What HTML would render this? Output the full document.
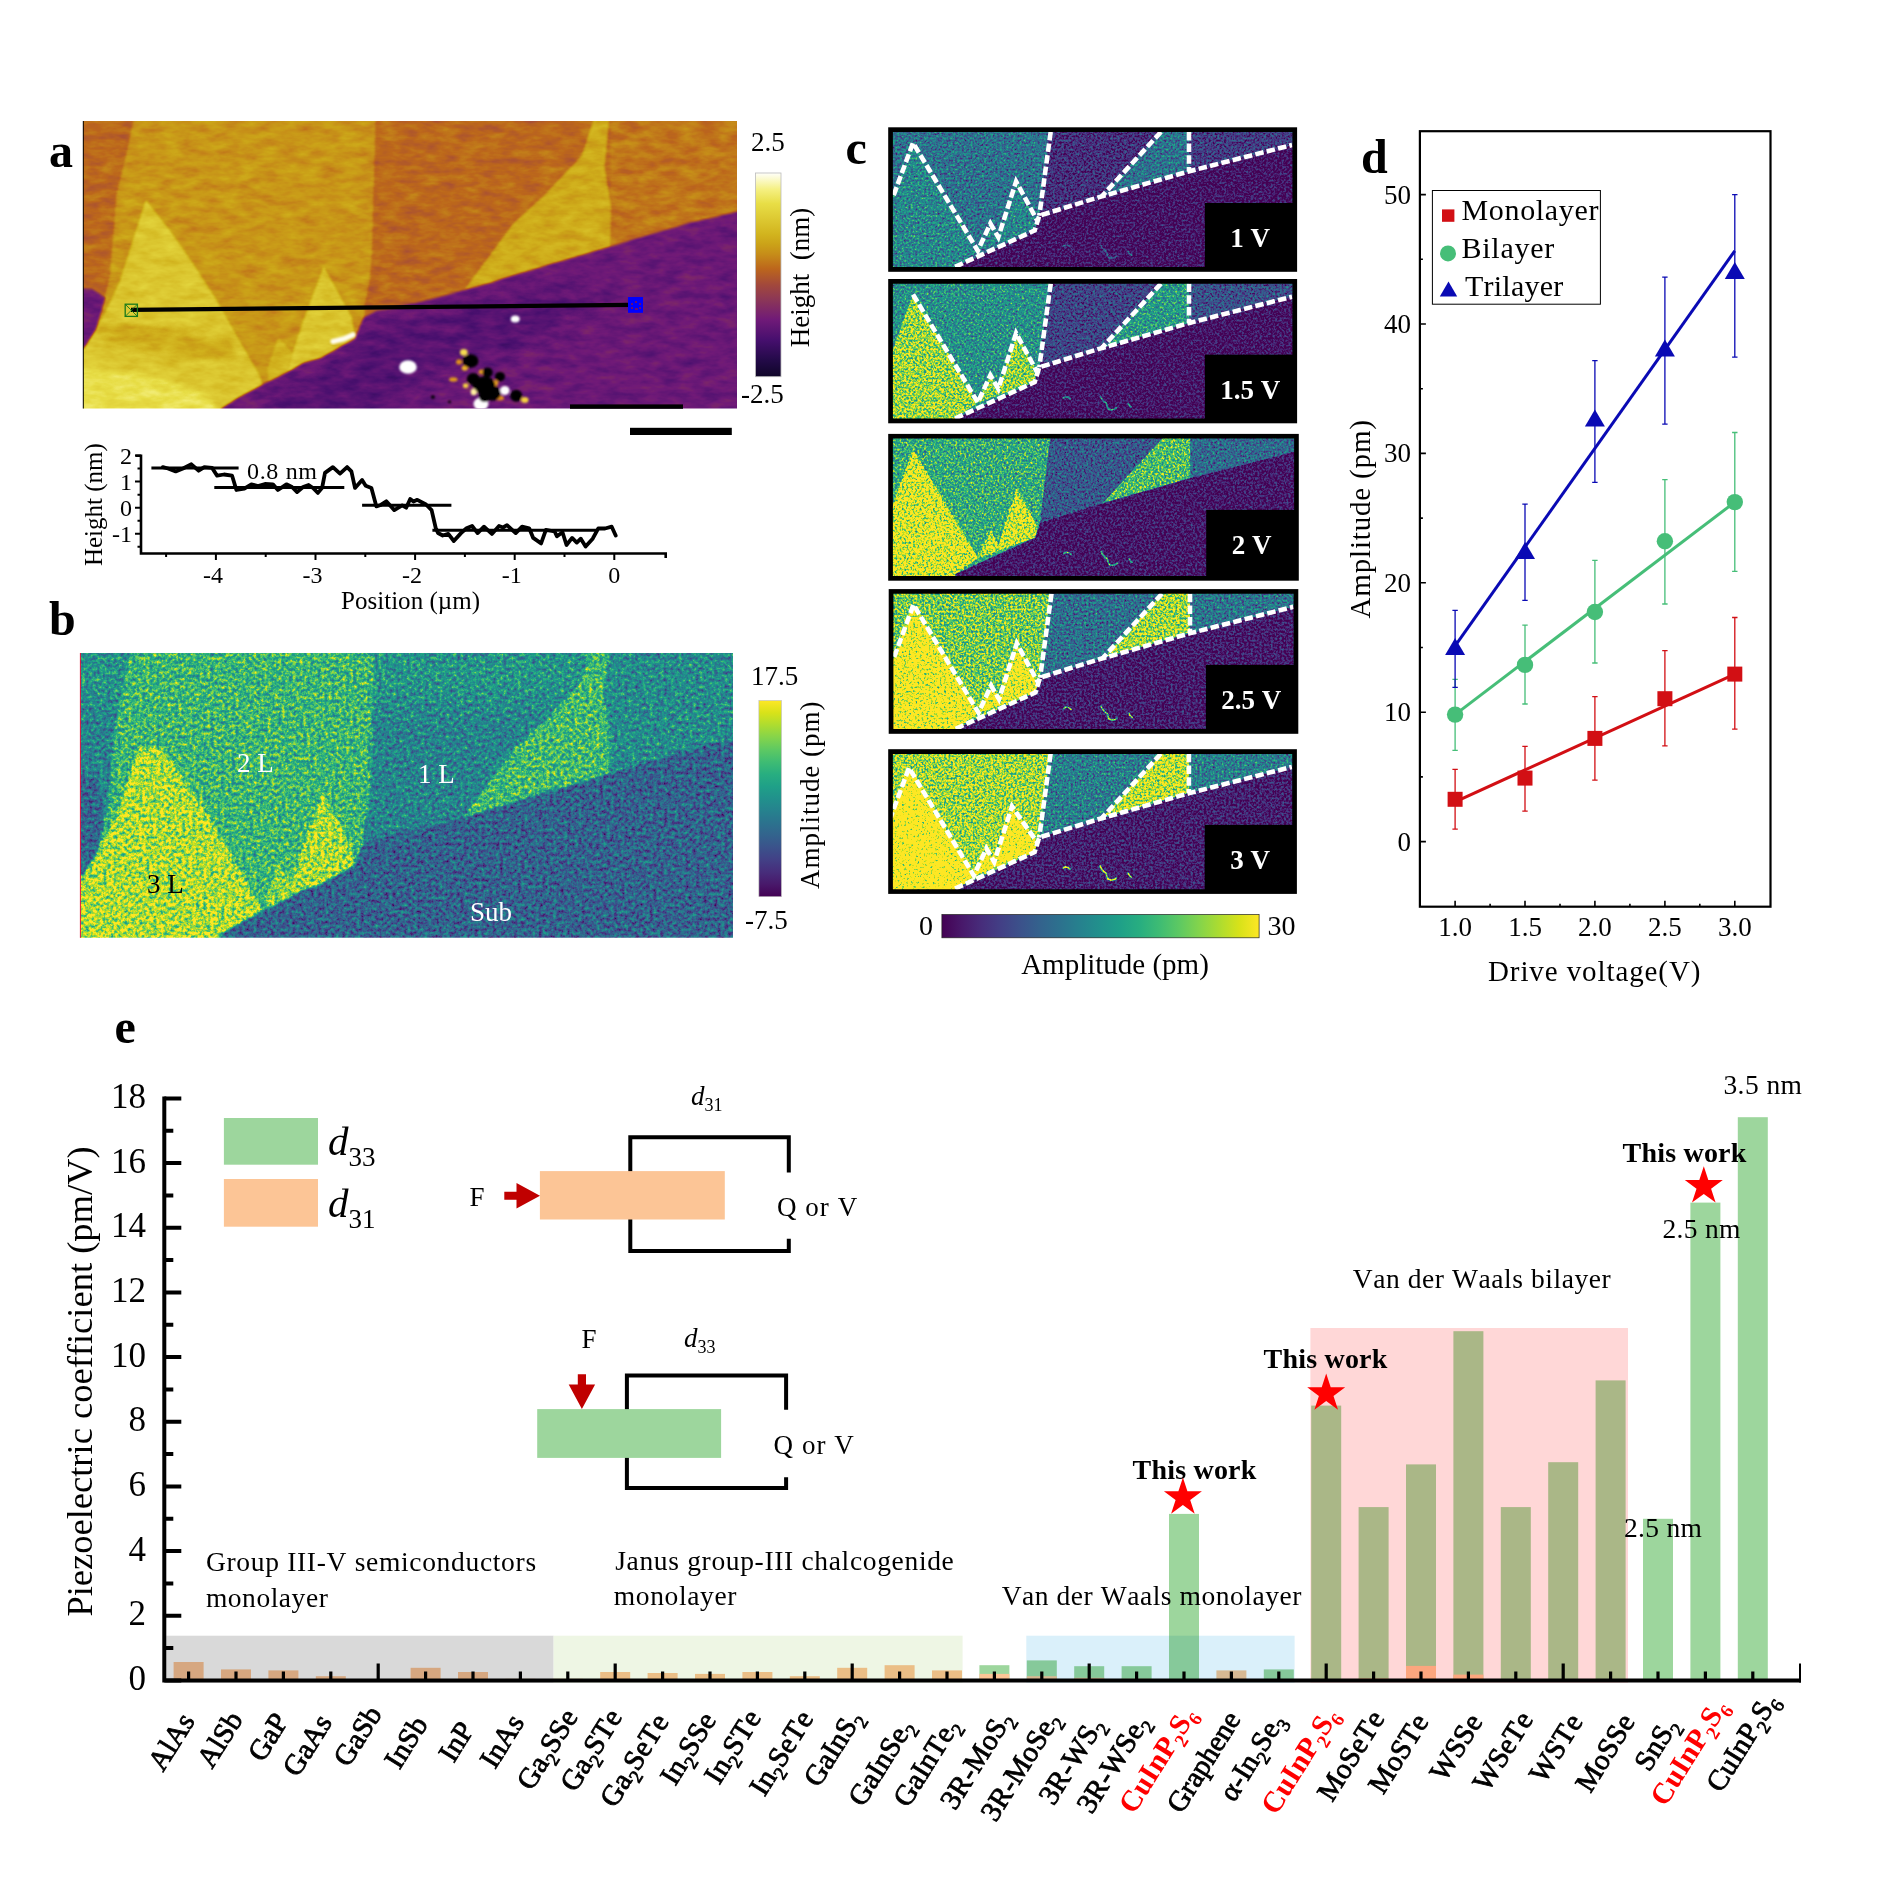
<!DOCTYPE html>
<html><head><meta charset="utf-8"><title>Figure</title>
<style>
html,body{margin:0;padding:0;background:#fff}
svg{display:block}
text{font-family:"Liberation Serif","DejaVu Serif",serif;fill:#000;font-kerning:none}
.b{font-weight:bold}
.i{font-style:italic}
</style></head><body>
<svg width="1890" height="1890" viewBox="0 0 1890 1890">
<defs>

<filter id="fa" x="0" y="0" width="100%" height="100%" color-interpolation-filters="sRGB"><feGaussianBlur in="SourceGraphic" stdDeviation="1.2" result="bl"/><feTurbulence type="fractalNoise" baseFrequency="0.05 0.12" numOctaves="3" seed="7" result="n"/><feColorMatrix in="n" type="matrix" values="1 0 0 0 0 1 0 0 0 0 1 0 0 0 0 0 0 0 0 1" result="ng"/><feComposite in="bl" in2="ng" operator="arithmetic" k1="0.000" k2="1.000" k3="0.160" k4="-0.080" result="s"/><feComponentTransfer in="s" result="c"><feFuncR type="table" tableValues="0.059 0.089 0.120 0.156 0.199 0.242 0.287 0.338 0.390 0.441 0.475 0.509 0.544 0.581 0.620 0.659 0.699 0.738 0.755 0.773 0.786 0.800 0.817 0.834 0.852 0.870 0.888 0.906 0.928 0.951 0.969 0.985 1.000"/><feFuncG type="table" tableValues="0.020 0.027 0.035 0.042 0.048 0.054 0.062 0.076 0.089 0.103 0.139 0.174 0.210 0.241 0.270 0.310 0.356 0.403 0.469 0.536 0.592 0.644 0.688 0.726 0.761 0.795 0.829 0.864 0.896 0.927 0.955 0.979 1.000"/><feFuncB type="table" tableValues="0.157 0.206 0.255 0.303 0.349 0.396 0.434 0.447 0.459 0.469 0.427 0.386 0.344 0.299 0.254 0.206 0.157 0.110 0.104 0.099 0.096 0.097 0.112 0.137 0.170 0.203 0.235 0.268 0.359 0.464 0.613 0.797 0.980"/><feFuncA type="linear" slope="0" intercept="1"/></feComponentTransfer></filter>
<filter id="fb" x="0" y="0" width="100%" height="100%" color-interpolation-filters="sRGB"><feGaussianBlur in="SourceGraphic" stdDeviation="1.0" result="bl"/><feTurbulence type="fractalNoise" baseFrequency="0.28" numOctaves="4" seed="11" result="n"/><feColorMatrix in="n" type="matrix" values="1 0 0 0 0 1 0 0 0 0 1 0 0 0 0 0 0 0 0 1" result="ng"/><feComposite in="bl" in2="ng" operator="arithmetic" k1="0.450" k2="0.775" k3="0.420" k4="-0.210" result="s"/><feComponentTransfer in="s" result="c"><feFuncR type="table" tableValues="0.267 0.267 0.267 0.282 0.279 0.259 0.230 0.199 0.173 0.149 0.128 0.121 0.158 0.246 0.369 0.516 0.678 0.846 0.993 0.993 0.993 0.993 0.993"/><feFuncG type="table" tableValues="0.005 0.005 0.005 0.095 0.175 0.252 0.322 0.388 0.449 0.508 0.567 0.626 0.684 0.739 0.789 0.831 0.864 0.887 0.906 0.906 0.906 0.906 0.906"/><feFuncB type="table" tableValues="0.329 0.329 0.329 0.417 0.483 0.525 0.546 0.555 0.558 0.557 0.551 0.533 0.502 0.452 0.383 0.294 0.190 0.100 0.144 0.144 0.144 0.144 0.144"/><feFuncA type="linear" slope="0" intercept="1"/></feComponentTransfer></filter>
<filter id="fc0" x="0" y="0" width="100%" height="100%" color-interpolation-filters="sRGB"><feGaussianBlur in="SourceGraphic" stdDeviation="0.7" result="bl"/><feTurbulence type="fractalNoise" baseFrequency="0.45" numOctaves="3" seed="20" result="n"/><feColorMatrix in="n" type="matrix" values="1 0 0 0 0 1 0 0 0 0 1 0 0 0 0 0 0 0 0 1" result="ng"/><feComposite in="bl" in2="ng" operator="arithmetic" k1="0.850" k2="0.575" k3="0.360" k4="-0.180" result="s"/><feComponentTransfer in="s" result="c"><feFuncR type="table" tableValues="0.267 0.267 0.267 0.282 0.279 0.259 0.230 0.199 0.173 0.149 0.128 0.121 0.158 0.246 0.369 0.516 0.678 0.846 0.993 0.993 0.993 0.993 0.993"/><feFuncG type="table" tableValues="0.005 0.005 0.005 0.095 0.175 0.252 0.322 0.388 0.449 0.508 0.567 0.626 0.684 0.739 0.789 0.831 0.864 0.887 0.906 0.906 0.906 0.906 0.906"/><feFuncB type="table" tableValues="0.329 0.329 0.329 0.417 0.483 0.525 0.546 0.555 0.558 0.557 0.551 0.533 0.502 0.452 0.383 0.294 0.190 0.100 0.144 0.144 0.144 0.144 0.144"/><feFuncA type="linear" slope="0" intercept="1"/></feComponentTransfer></filter>
<filter id="fc1" x="0" y="0" width="100%" height="100%" color-interpolation-filters="sRGB"><feGaussianBlur in="SourceGraphic" stdDeviation="0.7" result="bl"/><feTurbulence type="fractalNoise" baseFrequency="0.45" numOctaves="3" seed="21" result="n"/><feColorMatrix in="n" type="matrix" values="1 0 0 0 0 1 0 0 0 0 1 0 0 0 0 0 0 0 0 1" result="ng"/><feComposite in="bl" in2="ng" operator="arithmetic" k1="0.850" k2="0.575" k3="0.360" k4="-0.180" result="s"/><feComponentTransfer in="s" result="c"><feFuncR type="table" tableValues="0.267 0.267 0.267 0.282 0.279 0.259 0.230 0.199 0.173 0.149 0.128 0.121 0.158 0.246 0.369 0.516 0.678 0.846 0.993 0.993 0.993 0.993 0.993"/><feFuncG type="table" tableValues="0.005 0.005 0.005 0.095 0.175 0.252 0.322 0.388 0.449 0.508 0.567 0.626 0.684 0.739 0.789 0.831 0.864 0.887 0.906 0.906 0.906 0.906 0.906"/><feFuncB type="table" tableValues="0.329 0.329 0.329 0.417 0.483 0.525 0.546 0.555 0.558 0.557 0.551 0.533 0.502 0.452 0.383 0.294 0.190 0.100 0.144 0.144 0.144 0.144 0.144"/><feFuncA type="linear" slope="0" intercept="1"/></feComponentTransfer></filter>
<filter id="fc2" x="0" y="0" width="100%" height="100%" color-interpolation-filters="sRGB"><feGaussianBlur in="SourceGraphic" stdDeviation="0.7" result="bl"/><feTurbulence type="fractalNoise" baseFrequency="0.45" numOctaves="3" seed="22" result="n"/><feColorMatrix in="n" type="matrix" values="1 0 0 0 0 1 0 0 0 0 1 0 0 0 0 0 0 0 0 1" result="ng"/><feComposite in="bl" in2="ng" operator="arithmetic" k1="0.850" k2="0.575" k3="0.360" k4="-0.180" result="s"/><feComponentTransfer in="s" result="c"><feFuncR type="table" tableValues="0.267 0.267 0.267 0.282 0.279 0.259 0.230 0.199 0.173 0.149 0.128 0.121 0.158 0.246 0.369 0.516 0.678 0.846 0.993 0.993 0.993 0.993 0.993"/><feFuncG type="table" tableValues="0.005 0.005 0.005 0.095 0.175 0.252 0.322 0.388 0.449 0.508 0.567 0.626 0.684 0.739 0.789 0.831 0.864 0.887 0.906 0.906 0.906 0.906 0.906"/><feFuncB type="table" tableValues="0.329 0.329 0.329 0.417 0.483 0.525 0.546 0.555 0.558 0.557 0.551 0.533 0.502 0.452 0.383 0.294 0.190 0.100 0.144 0.144 0.144 0.144 0.144"/><feFuncA type="linear" slope="0" intercept="1"/></feComponentTransfer></filter>
<filter id="fc3" x="0" y="0" width="100%" height="100%" color-interpolation-filters="sRGB"><feGaussianBlur in="SourceGraphic" stdDeviation="0.7" result="bl"/><feTurbulence type="fractalNoise" baseFrequency="0.45" numOctaves="3" seed="23" result="n"/><feColorMatrix in="n" type="matrix" values="1 0 0 0 0 1 0 0 0 0 1 0 0 0 0 0 0 0 0 1" result="ng"/><feComposite in="bl" in2="ng" operator="arithmetic" k1="0.850" k2="0.575" k3="0.360" k4="-0.180" result="s"/><feComponentTransfer in="s" result="c"><feFuncR type="table" tableValues="0.267 0.267 0.267 0.282 0.279 0.259 0.230 0.199 0.173 0.149 0.128 0.121 0.158 0.246 0.369 0.516 0.678 0.846 0.993 0.993 0.993 0.993 0.993"/><feFuncG type="table" tableValues="0.005 0.005 0.005 0.095 0.175 0.252 0.322 0.388 0.449 0.508 0.567 0.626 0.684 0.739 0.789 0.831 0.864 0.887 0.906 0.906 0.906 0.906 0.906"/><feFuncB type="table" tableValues="0.329 0.329 0.329 0.417 0.483 0.525 0.546 0.555 0.558 0.557 0.551 0.533 0.502 0.452 0.383 0.294 0.190 0.100 0.144 0.144 0.144 0.144 0.144"/><feFuncA type="linear" slope="0" intercept="1"/></feComponentTransfer></filter>
<filter id="fc4" x="0" y="0" width="100%" height="100%" color-interpolation-filters="sRGB"><feGaussianBlur in="SourceGraphic" stdDeviation="0.7" result="bl"/><feTurbulence type="fractalNoise" baseFrequency="0.45" numOctaves="3" seed="24" result="n"/><feColorMatrix in="n" type="matrix" values="1 0 0 0 0 1 0 0 0 0 1 0 0 0 0 0 0 0 0 1" result="ng"/><feComposite in="bl" in2="ng" operator="arithmetic" k1="0.850" k2="0.575" k3="0.360" k4="-0.180" result="s"/><feComponentTransfer in="s" result="c"><feFuncR type="table" tableValues="0.267 0.267 0.267 0.282 0.279 0.259 0.230 0.199 0.173 0.149 0.128 0.121 0.158 0.246 0.369 0.516 0.678 0.846 0.993 0.993 0.993 0.993 0.993"/><feFuncG type="table" tableValues="0.005 0.005 0.005 0.095 0.175 0.252 0.322 0.388 0.449 0.508 0.567 0.626 0.684 0.739 0.789 0.831 0.864 0.887 0.906 0.906 0.906 0.906 0.906"/><feFuncB type="table" tableValues="0.329 0.329 0.329 0.417 0.483 0.525 0.546 0.555 0.558 0.557 0.551 0.533 0.502 0.452 0.383 0.294 0.190 0.100 0.144 0.144 0.144 0.144 0.144"/><feFuncA type="linear" slope="0" intercept="1"/></feComponentTransfer></filter>
<filter id="bl1" x="-50%" y="-50%" width="200%" height="200%"><feGaussianBlur stdDeviation="1"/></filter>
<filter id="bl3" x="-20%" y="-50%" width="140%" height="200%"><feGaussianBlur stdDeviation="14"/></filter>
<filter id="bl4" x="-20%" y="-30%" width="140%" height="160%"><feGaussianBlur stdDeviation="7"/></filter>
<filter id="bl2" x="-50%" y="-50%" width="200%" height="200%"><feGaussianBlur stdDeviation="2.5"/></filter>
<linearGradient id="ga" x1="0" y1="0" x2="0" y2="1"><stop offset="0.000" stop-color="rgb(255,255,250)"/><stop offset="0.040" stop-color="rgb(250,248,190)"/><stop offset="0.080" stop-color="rgb(245,240,130)"/><stop offset="0.150" stop-color="rgb(232,222,70)"/><stop offset="0.300" stop-color="rgb(210,180,30)"/><stop offset="0.350" stop-color="rgb(203,162,24)"/><stop offset="0.400" stop-color="rgb(198,140,25)"/><stop offset="0.470" stop-color="rgb(188,102,28)"/><stop offset="0.550" stop-color="rgb(162,72,60)"/><stop offset="0.620" stop-color="rgb(140,55,86)"/><stop offset="0.720" stop-color="rgb(112,26,120)"/><stop offset="0.820" stop-color="rgb(70,15,110)"/><stop offset="0.920" stop-color="rgb(35,10,72)"/><stop offset="1.000" stop-color="rgb(15,5,40)"/></linearGradient>
<linearGradient id="gb" x1="0" y1="0" x2="0" y2="1"><stop offset="0.000" stop-color="rgb(253,231,37)"/><stop offset="0.062" stop-color="rgb(216,226,25)"/><stop offset="0.125" stop-color="rgb(173,220,48)"/><stop offset="0.188" stop-color="rgb(132,212,75)"/><stop offset="0.250" stop-color="rgb(94,201,98)"/><stop offset="0.312" stop-color="rgb(63,188,115)"/><stop offset="0.375" stop-color="rgb(40,174,128)"/><stop offset="0.438" stop-color="rgb(31,160,136)"/><stop offset="0.500" stop-color="rgb(33,145,140)"/><stop offset="0.562" stop-color="rgb(38,130,142)"/><stop offset="0.625" stop-color="rgb(44,114,142)"/><stop offset="0.688" stop-color="rgb(51,99,141)"/><stop offset="0.750" stop-color="rgb(59,82,139)"/><stop offset="0.812" stop-color="rgb(66,64,134)"/><stop offset="0.875" stop-color="rgb(71,45,123)"/><stop offset="0.938" stop-color="rgb(72,24,106)"/><stop offset="1.000" stop-color="rgb(68,1,84)"/></linearGradient>
<linearGradient id="gc" x1="0" y1="0" x2="1" y2="0"><stop offset="0.000" stop-color="rgb(68,1,84)"/><stop offset="0.062" stop-color="rgb(72,24,106)"/><stop offset="0.125" stop-color="rgb(71,45,123)"/><stop offset="0.188" stop-color="rgb(66,64,134)"/><stop offset="0.250" stop-color="rgb(59,82,139)"/><stop offset="0.312" stop-color="rgb(51,99,141)"/><stop offset="0.375" stop-color="rgb(44,114,142)"/><stop offset="0.438" stop-color="rgb(38,130,142)"/><stop offset="0.500" stop-color="rgb(33,145,140)"/><stop offset="0.562" stop-color="rgb(31,160,136)"/><stop offset="0.625" stop-color="rgb(40,174,128)"/><stop offset="0.688" stop-color="rgb(63,188,115)"/><stop offset="0.750" stop-color="rgb(94,201,98)"/><stop offset="0.812" stop-color="rgb(132,212,75)"/><stop offset="0.875" stop-color="rgb(173,220,48)"/><stop offset="0.938" stop-color="rgb(216,226,25)"/><stop offset="1.000" stop-color="rgb(253,231,37)"/></linearGradient>
<clipPath id="ca"><rect x="83" y="121" width="654" height="287.5"/></clipPath>
<clipPath id="cb"><rect x="80.2" y="653" width="652.8" height="284.8"/></clipPath>
</defs>

<rect x="0" y="0" width="1890" height="1890" fill="#fff"/>

<g id="panelA">
<g clip-path="url(#ca)"><g filter="url(#fa)">
<rect x="73" y="111" width="674" height="307.5" fill="rgb(136,136,136)"/>
<polygon points="133.2,100.0 133.2,121.0 126.0,156.3 116.5,194.4 114.1,226.1 110.2,273.7 103.8,302.3 95.9,329.3 84.0,348.3 60.0,349.0 60.0,430.0 221.3,430.0 221.3,408.7 238.7,397.5 262.5,384.8 288.1,371.9 303.3,363.0 321.1,357.9 338.9,347.8 355.4,338.9 360.5,324.9 364.3,317.3 364.3,307.1 369.4,281.7 371.9,250.0 375.5,121.0 375.5,100.0" fill="rgb(159,159,159)"/>
<polygon points="145.9,199.9 132.4,242.0 119.7,281.7 108.6,305.5 95.9,329.3 84.0,348.3 60.0,349.0 60.0,430.0 221.3,430.0 221.3,408.7 238.7,397.5 262.5,384.8 259.4,375.3 235.6,334.0 214.9,297.5 191.1,261.0 168.9,229.3" fill="rgb(195,195,195)"/>
<polygon points="100.6,321.3 159.4,327.7 230.8,340.4 238.7,362.6 175.2,357.9 119.7,345.2 95.9,334.0" fill="rgb(168,168,168)" opacity="0.8" filter="url(#bl2)"/>
<polygon points="60.0,366.0 150.0,374.0 212.0,396.0 222.0,430.0 60.0,430.0" fill="rgb(224,224,224)" opacity="0.8" filter="url(#bl2)"/>
<polygon points="323.7,266.5 351.6,317.3 355.4,338.9 338.9,347.8 321.1,357.9 303.3,363.0 288.1,371.9 292.7,353.1 303.3,321.1" fill="rgb(195,195,195)"/>
<polygon points="278.4,337.2 292.7,353.1 288.1,371.9 269.0,383.3 267.3,369.0" fill="rgb(178,178,178)"/>
<polygon points="611.0,100.0 760.0,100.0 760.0,206.0 737.0,212.0 684.4,224.4 617.8,244.4 610.0,246.7" fill="rgb(143,143,143)"/>
<polygon points="593.3,100.0 609.0,100.0 609.0,121.0 604.4,166.7 611.0,206.7 610.0,246.7 513.0,275.5 490.0,283.0 464.0,290.5 513.0,224.0 546.7,193.0 582.0,155.5 593.3,121.0" fill="rgb(172,172,172)"/>
<polygon points="221.3,408.7 238.7,397.5 262.5,384.8 288.1,371.9 303.3,363.0 321.1,357.9 338.9,347.8 355.4,338.9 360.5,324.9 364.3,317.3 377.0,311.0 415.1,303.3 453.2,293.2 490.0,283.0 513.0,275.5 617.8,244.4 684.4,224.4 737.0,212.0 760.0,206.0 760.0,430.0 221.3,430.0" fill="rgb(68,68,68)"/>
<polygon points="60.0,287.0 92.0,289.0 105.4,297.5 103.8,302.3 95.9,329.3 84.0,348.3 60.0,349.0" fill="rgb(68,68,68)"/>
<polygon points="262.0,400.0 330.0,368.0 372.0,326.0 470.0,306.0 560.0,285.0 600.0,300.0 520.0,350.0 430.0,372.0 380.0,420.0 262.0,420.0" fill="rgb(52,52,52)" opacity="0.75" filter="url(#bl4)"/>
</g>
<path d="M333 341.5 L344 338.8 L353 334.8" stroke="#fffdf0" stroke-width="5.2" fill="none" stroke-linecap="round" filter="url(#bl1)"/>
<g filter="url(#bl1)">
<ellipse cx="408" cy="367" rx="8.8" ry="6.8" fill="#fff"/>
<ellipse cx="515.2" cy="319" rx="4.5" ry="3.6" fill="#fff"/>
<ellipse cx="463.8" cy="352.4" rx="3.8" ry="3.3" fill="#f5dc50"/>
<ellipse cx="459" cy="361.9" rx="3" ry="2.6" fill="#e0901e"/>
<ellipse cx="464.8" cy="368.1" rx="3.2" ry="2.6" fill="#f0b428"/>
<ellipse cx="481.4" cy="371.9" rx="2.6" ry="2.4" fill="#e8a020"/>
<ellipse cx="504.8" cy="390.5" rx="4.8" ry="4.6" fill="#fff"/>
<ellipse cx="481" cy="404" rx="7.5" ry="6.5" fill="#fff"/>
<ellipse cx="473.8" cy="391.9" rx="3.2" ry="3.4" fill="#fff0a0"/>
<ellipse cx="465.7" cy="385.7" rx="2.8" ry="2.4" fill="#f5d040"/>
<ellipse cx="453.3" cy="379.5" rx="4.2" ry="2.2" fill="#e09a1e"/>
<ellipse cx="524.8" cy="400" rx="3.8" ry="3" fill="#f5d040"/>
<ellipse cx="495.2" cy="382.9" rx="3" ry="3" fill="#e8a020"/>
<ellipse cx="500" cy="398" rx="4" ry="2.5" fill="#e0901e"/>
<ellipse cx="470.5" cy="361" rx="8" ry="6.8" fill="#000"/>
<ellipse cx="473.3" cy="379" rx="6.5" ry="6" fill="#000"/>
<ellipse cx="487.6" cy="372.4" rx="5" ry="5" fill="#000"/>
<ellipse cx="484.8" cy="385.7" rx="10.5" ry="9.5" fill="#000"/>
<ellipse cx="492.4" cy="393.3" rx="8.5" ry="7.5" fill="#000"/>
<ellipse cx="484.8" cy="396.5" rx="6" ry="5.5" fill="#000"/>
<ellipse cx="478" cy="384" rx="6" ry="6" fill="#000"/>
<ellipse cx="500" cy="376.7" rx="5" ry="4.8" fill="#000"/>
<ellipse cx="516.2" cy="395.7" rx="6" ry="6" fill="#000"/>
<ellipse cx="432.9" cy="397.1" rx="2" ry="1.8" fill="#000"/>
<ellipse cx="449.5" cy="401.9" rx="1.5" ry="1.3" fill="#000"/>
</g>
</g>
<line x1="83.3" y1="121" x2="83.3" y2="408.5" stroke="#000" stroke-width="1"/>
<line x1="131" y1="309.9" x2="630" y2="304.9" stroke="#000" stroke-width="4.2"/>
<g stroke="#1a7a1a" stroke-width="1.3" fill="none"><rect x="125.2" y="304.2" width="12.2" height="12.2"/><path d="M125.2 304.2 L137.4 316.4 M137.4 304.2 L125.2 316.4" stroke-width="0.9"/></g>
<rect x="628" y="297" width="15" height="15.8" fill="#0000ff"/><path d="M631 304 h2 M639 304 h2 M631 308 h2 M639 308 h2 M636 301 v2 M635 309 h3" stroke="#a01428" stroke-width="1.6" opacity="0.85"/>
<rect x="570" y="404.4" width="113" height="4.4" fill="#000"/>
<rect x="630" y="427.8" width="101.8" height="7.2" fill="#000"/>
<rect x="755.5" y="173" width="25.5" height="203.7" fill="url(#ga)"/>
<rect x="755.5" y="173" width="25.5" height="203.7" fill="none" stroke="#bbb" stroke-width="0.8"/>
<text x="751" y="150.7" font-size="27">2.5</text>
<text x="741" y="403" font-size="27">-2.5</text>
<text transform="translate(809,277.5) rotate(-90)" text-anchor="middle" font-size="27" xml:space="preserve">Height  (nm)</text>
<text class="b" x="49" y="167" font-size="48">a</text>
</g>

<g id="profile">
<path d="M135.5 455.7 H141 V553.5 H665.7 V558" stroke="#000" stroke-width="2.6" fill="none"/>
<path d="M135 455.6 H141 M135 481.6 H141 M135 507.7 H141 M135 533.8 H141 M137.5 468.6 H141 M137.5 494.7 H141 M137.5 520.7 H141 M137.5 546.8 H141 M215.9 553.5 V560 M315.5 553.5 V560 M415.1 553.5 V560 M514.7 553.5 V560 M614.3 553.5 V560 M166.1 553.5 V557 M265.7 553.5 V557 M365.3 553.5 V557 M464.9 553.5 V557 M564.5 553.5 V557 " stroke="#000" stroke-width="2" fill="none"/>
<text x="132" y="463.6" text-anchor="end" font-size="24">2</text>
<text x="132" y="489.6" text-anchor="end" font-size="24">1</text>
<text x="132" y="515.7" text-anchor="end" font-size="24">0</text>
<text x="132" y="541.8" text-anchor="end" font-size="24">-1</text>
<text x="212.9" y="583.3" text-anchor="middle" font-size="24">-4</text>
<text x="312.5" y="583.3" text-anchor="middle" font-size="24">-3</text>
<text x="412.1" y="583.3" text-anchor="middle" font-size="24">-2</text>
<text x="511.7" y="583.3" text-anchor="middle" font-size="24">-1</text>
<text x="614.3" y="583.3" text-anchor="middle" font-size="24">0</text>
<text x="341" y="608.5" font-size="25" textLength="139">Position (µm)</text>
<text transform="translate(102,504.6) rotate(-90)" text-anchor="middle" font-size="25">Height (nm)</text>
<polyline points="162.9,467.1 168.0,468.5 175.7,471.4 183.0,468.5 191.4,464.3 198.6,470.7 204.3,467.1 212.1,467.9 217.1,475.7 224.0,474.5 232.1,475.7 236.4,490.0 244.3,488.6 251.4,484.3 258.0,486.0 265.0,484.0 272.9,484.3 277.9,490.0 286.4,484.3 292.0,487.0 297.1,492.1 303.0,487.0 308.6,485.0 313.0,488.0 317.9,492.9 322.1,487.9 325.0,472.9 332.9,467.1 340.0,473.6 347.1,467.1 351.4,471.4 355.0,487.9 362.1,480.0 365.7,485.7 371.4,487.9 376.4,506.4 380.0,505.3 386.3,501.3 394.3,510.1 402.2,505.3 406.2,507.7 410.2,499.0 413.5,501.5 417.3,499.8 426.0,504.5 431.6,510.1 435.6,527.5 438.0,533.0 442.7,535.5 448.3,533.9 453.8,541.0 461.0,533.1 466.5,528.3 472.1,526.0 477.6,533.1 484.0,526.7 491.9,533.9 499.0,526.0 503.0,527.5 507.0,525.2 515.7,533.1 522.1,526.7 529.2,528.3 533.2,537.9 541.1,543.4 545.9,529.9 554.6,531.5 557.0,536.3 562.5,532.3 566.5,545.0 572.1,537.9 576.8,542.6 580.8,538.7 585.6,546.6 592.7,538.7 598.3,528.3 605.0,528.5 611.7,526.7 615.7,535.5" fill="none" stroke="#000" stroke-width="3.8" stroke-linejoin="round" stroke-linecap="round"/>
<path d="M151.4 468.1 H238.6 M214.3 487.4 H344.3 M362.1 505.3 H451.4 M432.4 530.2 H597.5" stroke="#000" stroke-width="3"/>
<text x="247" y="478.6" font-size="24" textLength="70">0.8 nm</text>
</g>

<g id="panelB">
<g clip-path="url(#cb)"><g filter="url(#fb)">
<rect x="70" y="643" width="673" height="305" fill="rgb(105,105,105)"/>
<rect x="70" y="643" width="673" height="60" fill="rgb(120,120,120)" filter="url(#bl3)"/>
<polygon points="132.2,627.0 132.2,648.0 125.0,683.3 115.5,721.4 113.1,753.1 109.2,800.7 102.8,829.3 94.9,856.3 83.0,875.3 59.0,876.0 59.0,957.0 220.3,957.0 220.3,935.7 237.7,924.5 261.5,911.8 287.1,898.9 302.3,890.0 320.1,884.9 337.9,874.8 354.4,865.9 359.5,851.9 363.3,844.3 363.3,834.1 368.4,808.7 370.9,777.0 374.5,648.0 374.5,627.0" fill="rgb(146,146,146)"/>
<polygon points="146.0,746.0 138.0,750.0 131.4,769.0 118.7,808.7 107.6,832.5 94.9,856.3 83.0,875.3 59.0,876.0 59.0,957.0 220.3,957.0 220.3,935.7 237.7,924.5 261.5,911.8 258.4,902.3 234.6,861.0 213.9,824.5 190.1,788.0 167.9,756.3 156.0,747.0" fill="rgb(185,185,185)"/>
<polygon points="322.7,793.5 350.6,844.3 354.4,865.9 337.9,874.8 320.1,884.9 302.3,890.0 287.1,898.9 291.7,880.1 302.3,848.1" fill="rgb(183,183,183)"/>
<polygon points="277.4,864.2 291.7,880.1 287.1,898.9 268.0,910.3 266.3,896.0" fill="rgb(172,172,172)"/>
<polygon points="610.0,627.0 759.0,627.0 759.0,733.0 736.0,739.0 683.4,751.4 616.8,771.4 609.0,773.7" fill="rgb(112,112,112)"/>
<polygon points="592.3,627.0 608.0,627.0 608.0,648.0 603.4,693.7 610.0,733.7 609.0,773.7 512.0,802.5 489.0,810.0 463.0,817.5 512.0,751.0 545.7,720.0 581.0,682.5 592.3,648.0" fill="rgb(149,149,149)"/>
<polygon points="220.3,935.7 237.7,924.5 261.5,911.8 287.1,898.9 302.3,890.0 320.1,884.9 337.9,874.8 354.4,865.9 359.5,851.9 363.3,844.3 376.0,838.0 414.1,830.3 452.2,820.2 489.0,810.0 512.0,802.5 616.8,771.4 683.4,751.4 736.0,739.0 759.0,733.0 759.0,957.0 220.3,957.0" fill="rgb(81,81,81)"/>
<polygon points="59.0,772.0 97.0,777.0 104.4,824.5 102.8,829.3 94.9,856.3 83.0,875.3 59.0,876.0" fill="rgb(83,83,83)"/>
</g></g>
<line x1="80.4" y1="653" x2="80.4" y2="937.8" stroke="#e6143c" stroke-width="1"/>
<text x="237" y="772" font-size="27" style="fill:#fff">2 L</text>
<text x="147" y="893" font-size="27">3 L</text>
<text x="418" y="782.6" font-size="27" style="fill:#fff">1 L</text>
<text x="470" y="920.6" font-size="27" style="fill:#fff">Sub</text>
<rect x="758.9" y="700.6" width="22.5" height="196.1" fill="url(#gb)"/>
<rect x="758.9" y="700.6" width="22.5" height="196.1" fill="none" stroke="#bbb" stroke-width="0.6"/>
<text x="751" y="684.6" font-size="27">17.5</text>
<text x="745" y="929.4" font-size="27">-7.5</text>
<text transform="translate(819,888.9) rotate(-90)" font-size="27" textLength="187.3">Amplitude (pm)</text>
<text class="b" x="49" y="635" font-size="48">b</text>
</g>

<g id="panelC">
<rect x="888.2" y="127.3" width="408.9" height="144.5" fill="#000"/>
<clipPath id="cc0"><rect x="892.9" y="132.0" width="399.5" height="135.1"/></clipPath>
<g clip-path="url(#cc0)"><g filter="url(#fc0)">
<rect x="883.2" y="122.3" width="418.9" height="154.5" fill="rgb(92,92,92)"/>
<polygon points="1050.7,122.3 1308.2,122.3 1308.2,141.3 1292.1,145.0 1189.5,171.2 1098.4,197.4 1039.3,215.6" fill="rgb(47,47,47)"/>
<polygon points="1189.0,122.3 1308.2,122.3 1308.2,141.3 1292.1,145.0 1189.0,171.2" fill="rgb(55,55,55)"/>
<polygon points="1161.0,131.9 1164.2,122.3 1189.0,122.3 1189.0,171.2 1101.9,196.2" fill="rgb(92,92,92)"/>
<polygon points="882.2,225.3 893.7,195.1 913.0,142.8 977.8,250.8 955.1,266.8 955.1,282.3 882.2,282.3" fill="rgb(108,108,108)"/>
<polygon points="977.8,250.8 990.4,223.5 998.3,237.2 1016.1,181.5 1037.0,220.1 1034.7,230.4" fill="rgb(106,106,106)"/>
<polygon points="955.1,266.8 1034.7,230.4 1039.3,215.6 1098.4,197.4 1189.5,171.2 1292.1,145.0 1308.2,141.3 1308.2,282.3 955.1,282.3" fill="rgb(32,32,32)"/>
<g fill="none" stroke="rgb(88,88,88)" stroke-width="1.6" stroke-linecap="round"><path d="M1063.2 246.3 q3 -3 7 1"/><path d="M1100.2 244.3 q2 5 6 7 q1 4 2 6 q5 2 8 -1"/><path d="M1128.2 251.3 q1 3 3 4"/></g>
</g></g>
<g fill="none" stroke="#fff" stroke-width="4.6" stroke-dasharray="8.5 3.2" clip-path="url(#cc0)">
<polyline points="893.7,195.1 913.0,142.8 977.8,250.8 990.4,223.5 998.3,237.2 1016.1,181.5 1037.0,220.1"/>
<polyline points="955.1,266.8 1034.7,230.4 1039.3,215.6 1098.4,197.4 1189.5,171.2 1292.1,145.0"/>
<polyline points="1050.7,131.9 1039.3,215.6"/>
<polyline points="1161.0,131.9 1101.9,196.2"/>
<polyline points="1189.0,131.9 1189.0,171.2"/>
</g>
<rect x="1204.9" y="203.0" width="91.2" height="67.8" fill="#000"/>
<text class="b" x="1250.2" y="246.8" text-anchor="middle" font-size="27" style="fill:#fff">1 V</text>
<rect x="888.2" y="279.0" width="408.9" height="144.3" fill="#000"/>
<clipPath id="cc1"><rect x="892.9" y="283.7" width="399.5" height="134.9"/></clipPath>
<g clip-path="url(#cc1)"><g filter="url(#fc1)">
<rect x="883.2" y="274.0" width="418.9" height="154.3" fill="rgb(116,116,116)"/>
<polygon points="1050.7,274.0 1308.2,274.0 1308.2,293.0 1292.1,296.7 1189.5,322.9 1098.4,349.1 1039.3,367.3" fill="rgb(60,60,60)"/>
<polygon points="1189.0,274.0 1308.2,274.0 1308.2,293.0 1292.1,296.7 1189.0,322.9" fill="rgb(68,68,68)"/>
<polygon points="1161.0,283.6 1164.2,274.0 1189.0,274.0 1189.0,322.9 1101.9,347.9" fill="rgb(123,123,123)"/>
<polygon points="882.2,377.0 893.7,346.8 913.0,294.5 977.8,402.5 955.1,418.5 955.1,434.0 882.2,434.0" fill="rgb(179,179,179)"/>
<polygon points="977.8,402.5 990.4,375.2 998.3,388.9 1016.1,333.2 1037.0,371.8 1034.7,382.1" fill="rgb(174,174,174)"/>
<polygon points="955.1,418.5 1034.7,382.1 1039.3,367.3 1098.4,349.1 1189.5,322.9 1292.1,296.7 1308.2,293.0 1308.2,434.0 955.1,434.0" fill="rgb(32,32,32)"/>
<g fill="none" stroke="rgb(121,121,121)" stroke-width="1.6" stroke-linecap="round"><path d="M1063.2 398.0 q3 -3 7 1"/><path d="M1100.2 396.0 q2 5 6 7 q1 4 2 6 q5 2 8 -1"/><path d="M1128.2 403.0 q1 3 3 4"/></g>
</g></g>
<g fill="none" stroke="#fff" stroke-width="4.6" stroke-dasharray="8.5 3.2" clip-path="url(#cc1)">
<polyline points="913.0,294.5 977.8,402.5 990.4,375.2 998.3,388.9 1016.1,333.2 1037.0,371.8"/>
<polyline points="955.1,418.5 1034.7,382.1 1039.3,367.3 1098.4,349.1 1189.5,322.9 1292.1,296.7"/>
<polyline points="1050.7,283.6 1039.3,367.3"/>
<polyline points="1161.0,283.6 1101.9,347.9"/>
<polyline points="1189.0,283.6 1189.0,322.9"/>
</g>
<rect x="1204.9" y="354.7" width="91.2" height="67.6" fill="#000"/>
<text class="b" x="1250.2" y="398.5" text-anchor="middle" font-size="27" style="fill:#fff">1.5 V</text>
<rect x="888.2" y="433.9" width="410.6" height="146.8" fill="#000"/>
<clipPath id="cc2"><rect x="892.9" y="438.6" width="401.2" height="137.4"/></clipPath>
<g clip-path="url(#cc2)"><g filter="url(#fc2)">
<rect x="883.2" y="428.9" width="420.6" height="156.8" fill="rgb(138,138,138)"/>
<polygon points="1051.4,428.9 1309.9,428.9 1309.9,448.0 1293.8,451.7 1190.8,478.0 1099.3,504.3 1039.9,522.6" fill="rgb(73,73,73)"/>
<polygon points="1190.3,428.9 1309.9,428.9 1309.9,448.0 1293.8,451.7 1190.3,478.0" fill="rgb(86,86,86)"/>
<polygon points="1162.1,438.5 1165.3,428.9 1190.3,428.9 1190.3,478.0 1102.8,503.1" fill="rgb(153,153,153)"/>
<polygon points="882.2,532.3 893.7,502.0 913.1,449.5 978.2,557.9 955.4,574.0 955.4,589.5 882.2,589.5" fill="rgb(203,203,203)"/>
<polygon points="978.2,557.9 990.8,530.5 998.8,544.3 1016.6,488.3 1037.6,527.1 1035.3,537.4" fill="rgb(198,198,198)"/>
<polygon points="955.4,574.0 1035.3,537.4 1039.9,522.6 1099.3,504.3 1190.8,478.0 1293.8,451.7 1309.9,448.0 1309.9,589.5 955.4,589.5" fill="rgb(34,34,34)"/>
<g fill="none" stroke="rgb(155,155,155)" stroke-width="1.6" stroke-linecap="round"><path d="M1063.9 553.4 q3 -3 7 1"/><path d="M1101.1 551.4 q2 5 6 7 q1 4 2 6 q5 2 8 -1"/><path d="M1129.2 558.4 q1 3 3 4"/></g>
</g></g>
<rect x="1206.2" y="509.9" width="91.6" height="69.8" fill="#000"/>
<text class="b" x="1251.7" y="553.9" text-anchor="middle" font-size="27" style="fill:#fff">2 V</text>
<rect x="888.7" y="589.1" width="409.6" height="144.7" fill="#000"/>
<clipPath id="cc3"><rect x="893.4" y="593.8" width="400.2" height="135.3"/></clipPath>
<g clip-path="url(#cc3)"><g filter="url(#fc3)">
<rect x="883.7" y="584.1" width="419.6" height="154.7" fill="rgb(166,166,166)"/>
<polygon points="1051.5,584.1 1309.4,584.1 1309.4,603.1 1293.3,606.8 1190.5,633.1 1099.3,659.3 1040.1,677.6" fill="rgb(90,90,90)"/>
<polygon points="1190.0,584.1 1309.4,584.1 1309.4,603.1 1293.3,606.8 1190.0,633.1" fill="rgb(94,94,94)"/>
<polygon points="1162.0,593.7 1165.2,584.1 1190.0,584.1 1190.0,633.1 1102.8,658.1" fill="rgb(181,181,181)"/>
<polygon points="882.7,687.3 894.2,657.0 913.5,604.6 978.5,712.8 955.7,728.8 955.7,744.4 882.7,744.4" fill="rgb(223,223,223)"/>
<polygon points="978.5,712.8 991.1,685.5 999.0,699.2 1016.8,643.4 1037.8,682.1 1035.5,692.4" fill="rgb(217,217,217)"/>
<polygon points="955.7,728.8 1035.5,692.4 1040.1,677.6 1099.3,659.3 1190.5,633.1 1293.3,606.8 1309.4,603.1 1309.4,744.4 955.7,744.4" fill="rgb(36,36,36)"/>
<g fill="none" stroke="rgb(188,188,188)" stroke-width="1.6" stroke-linecap="round"><path d="M1064.0 708.3 q3 -3 7 1"/><path d="M1101.1 706.3 q2 5 6 7 q1 4 2 6 q5 2 8 -1"/><path d="M1129.1 713.3 q1 3 3 4"/></g>
</g></g>
<g fill="none" stroke="#fff" stroke-width="4.6" stroke-dasharray="8.5 3.2" clip-path="url(#cc3)">
<polyline points="894.2,657.0 913.5,604.6 978.5,712.8 991.1,685.5 999.0,699.2 1016.8,643.4 1037.8,682.1"/>
<polyline points="955.7,728.8 1035.5,692.4 1040.1,677.6 1099.3,659.3 1190.5,633.1 1293.3,606.8"/>
<polyline points="1051.5,593.7 1040.1,677.6"/>
<polyline points="1162.0,593.7 1102.8,658.1"/>
<polyline points="1190.0,593.7 1190.0,633.1"/>
</g>
<rect x="1205.9" y="664.9" width="91.4" height="67.9" fill="#000"/>
<text class="b" x="1251.3" y="708.8" text-anchor="middle" font-size="27" style="fill:#fff">2.5 V</text>
<rect x="888.2" y="749.2" width="408.7" height="144.7" fill="#000"/>
<clipPath id="cc4"><rect x="892.9" y="753.9" width="399.3" height="135.3"/></clipPath>
<g clip-path="url(#cc4)"><g filter="url(#fc4)">
<rect x="883.2" y="744.2" width="418.7" height="154.7" fill="rgb(181,181,181)"/>
<polygon points="1050.6,744.2 1308.0,744.2 1308.0,763.2 1291.9,766.9 1189.4,793.1 1098.3,819.3 1039.2,837.5" fill="rgb(101,101,101)"/>
<polygon points="1188.9,744.2 1308.0,744.2 1308.0,763.2 1291.9,766.9 1188.9,793.1" fill="rgb(101,101,101)"/>
<polygon points="1160.9,753.8 1164.1,744.2 1188.9,744.2 1188.9,793.1 1101.8,818.1" fill="rgb(192,192,192)"/>
<polygon points="878.2,850.2 889.7,820.0 909.0,767.7 973.8,875.6 955.1,888.6 955.1,904.1 882.2,904.1" fill="rgb(236,236,236)"/>
<polygon points="973.8,875.6 986.4,848.4 994.2,862.0 1012.0,806.4 1036.9,842.0 1034.6,852.2" fill="rgb(230,230,230)"/>
<polygon points="955.1,888.6 1034.6,852.2 1039.2,837.5 1098.3,819.3 1189.4,793.1 1291.9,766.9 1308.0,763.2 1308.0,904.1 955.1,904.1" fill="rgb(38,38,38)"/>
<g fill="none" stroke="rgb(222,222,222)" stroke-width="1.6" stroke-linecap="round"><path d="M1063.1 868.1 q3 -3 7 1"/><path d="M1100.1 866.1 q2 5 6 7 q1 4 2 6 q5 2 8 -1"/><path d="M1128.1 873.1 q1 3 3 4"/></g>
</g></g>
<g fill="none" stroke="#fff" stroke-width="4.6" stroke-dasharray="8.5 3.2" clip-path="url(#cc4)">
<polyline points="889.7,820.0 909.0,767.7 973.8,875.6 986.4,848.4 994.2,862.0 1012.0,806.4 1036.9,842.0"/>
<polyline points="955.1,888.6 1034.6,852.2 1039.2,837.5 1098.3,819.3 1189.4,793.1 1291.9,766.9"/>
<polyline points="1050.6,753.8 1039.2,837.5"/>
<polyline points="1160.9,753.8 1101.8,818.1"/>
<polyline points="1188.9,753.8 1188.9,793.1"/>
</g>
<rect x="1204.7" y="824.9" width="91.2" height="68.0" fill="#000"/>
<text class="b" x="1250.0" y="868.6" text-anchor="middle" font-size="27" style="fill:#fff">3 V</text>
<rect x="941.9" y="914.5" width="317.2" height="23.3" fill="url(#gc)" stroke="#222" stroke-width="0.7"/>
<text x="919" y="935.2" font-size="28">0</text>
<text x="1267.5" y="935.2" font-size="28">30</text>
<text x="1115" y="974" text-anchor="middle" font-size="29">Amplitude (pm)</text>
<text class="b" x="845.5" y="164" font-size="48">c</text>
</g>

<g id="panelD">
<rect x="1419.9" y="131.2" width="350.6" height="775.5" fill="none" stroke="#000" stroke-width="2.2"/>
<path d="M1419.9 841.6 h6 M1419.9 712.2 h6 M1419.9 582.8 h6 M1419.9 453.4 h6 M1419.9 324.0 h6 M1419.9 194.6 h6 M1419.9 776.9 h3 M1419.9 647.5 h3 M1419.9 518.1 h3 M1419.9 388.7 h3 M1419.9 259.3 h3 M1455.1 906.7 v-6 M1525.0 906.7 v-6 M1594.9 906.7 v-6 M1664.9 906.7 v-6 M1734.8 906.7 v-6 M1490.1 906.7 v-3 M1560.0 906.7 v-3 M1629.9 906.7 v-3 M1699.8 906.7 v-3 " stroke="#000" stroke-width="1.6" fill="none"/>
<text x="1411" y="850.6" text-anchor="end" font-size="27">0</text>
<text x="1411" y="721.2" text-anchor="end" font-size="27">10</text>
<text x="1411" y="591.8" text-anchor="end" font-size="27">20</text>
<text x="1411" y="462.4" text-anchor="end" font-size="27">30</text>
<text x="1411" y="333.0" text-anchor="end" font-size="27">40</text>
<text x="1411" y="203.6" text-anchor="end" font-size="27">50</text>
<text x="1455.1" y="936.3" text-anchor="middle" font-size="27">1.0</text>
<text x="1525.0" y="936.3" text-anchor="middle" font-size="27">1.5</text>
<text x="1594.9" y="936.3" text-anchor="middle" font-size="27">2.0</text>
<text x="1664.9" y="936.3" text-anchor="middle" font-size="27">2.5</text>
<text x="1734.8" y="936.3" text-anchor="middle" font-size="27">3.0</text>
<text x="1488" y="981.3" font-size="29" textLength="212.4">Drive voltage(V)</text>
<text transform="translate(1370.3,618.5) rotate(-90)" font-size="29" textLength="198.5">Amplitude (pm)</text>
<path d="M1455.1 769.4 V829.2 M1452.4 769.4 h5.4 M1452.4 829.2 h5.4 M1525.0 746.3 V811.2 M1522.3 746.3 h5.4 M1522.3 811.2 h5.4 M1594.9 696.6 V780.2 M1592.2 696.6 h5.4 M1592.2 780.2 h5.4 M1664.9 650.6 V745.8 M1662.2 650.6 h5.4 M1662.2 745.8 h5.4 M1734.8 617.5 V729.2 M1732.1 617.5 h5.4 M1732.1 729.2 h5.4 " stroke="#d20f14" stroke-width="1.3" fill="none"/>
<line x1="1455.1" y1="801.9" x2="1734.8" y2="674.1" stroke="#d20f14" stroke-width="3"/>
<rect x="1447.6" y="791.8" width="15" height="15" fill="#d20f14"/>
<rect x="1517.5" y="770.6" width="15" height="15" fill="#d20f14"/>
<rect x="1587.4" y="730.9" width="15" height="15" fill="#d20f14"/>
<rect x="1657.4" y="691.2" width="15" height="15" fill="#d20f14"/>
<rect x="1727.3" y="666.6" width="15" height="15" fill="#d20f14"/>
<path d="M1455.1 679.4 V750.3 M1452.4 679.4 h5.4 M1452.4 750.3 h5.4 M1525.0 625.2 V704.0 M1522.3 625.2 h5.4 M1522.3 704.0 h5.4 M1594.9 560.4 V663.0 M1592.2 560.4 h5.4 M1592.2 663.0 h5.4 M1664.9 479.6 V604.0 M1662.2 479.6 h5.4 M1662.2 604.0 h5.4 M1734.8 432.5 V571.4 M1732.1 432.5 h5.4 M1732.1 571.4 h5.4 " stroke="#46be78" stroke-width="1.3" fill="none"/>
<line x1="1455.1" y1="714.6" x2="1734.8" y2="502.1" stroke="#46be78" stroke-width="3"/>
<circle cx="1455.1" cy="714.6" r="8.2" fill="#46be78"/>
<circle cx="1525.0" cy="664.9" r="8.2" fill="#46be78"/>
<circle cx="1594.9" cy="612.0" r="8.2" fill="#46be78"/>
<circle cx="1664.9" cy="541.3" r="8.2" fill="#46be78"/>
<circle cx="1734.8" cy="502.1" r="8.2" fill="#46be78"/>
<path d="M1455.1 610.4 V687.4 M1452.4 610.4 h5.4 M1452.4 687.4 h5.4 M1525.0 504.2 V600.3 M1522.3 504.2 h5.4 M1522.3 600.3 h5.4 M1594.9 360.6 V482.3 M1592.2 360.6 h5.4 M1592.2 482.3 h5.4 M1664.9 277.2 V424.1 M1662.2 277.2 h5.4 M1662.2 424.1 h5.4 M1734.8 194.7 V357.1 M1732.1 194.7 h5.4 M1732.1 357.1 h5.4 " stroke="#0a0ab4" stroke-width="1.3" fill="none"/>
<line x1="1455.1" y1="645.8" x2="1734.8" y2="250.8" stroke="#0a0ab4" stroke-width="3"/>
<polygon points="1455.1,638.0 1445.1,655.0 1465.1,655.0" fill="#0a0ab4"/>
<polygon points="1525.0,541.9 1515.0,558.9 1535.0,558.9" fill="#0a0ab4"/>
<polygon points="1594.9,409.6 1584.9,426.6 1604.9,426.6" fill="#0a0ab4"/>
<polygon points="1664.9,339.5 1654.9,356.5 1674.9,356.5" fill="#0a0ab4"/>
<polygon points="1734.8,262.0 1724.8,279.0 1744.8,279.0" fill="#0a0ab4"/>
<rect x="1432.4" y="190.5" width="168" height="113.7" fill="#fff" stroke="#000" stroke-width="1"/>
<rect x="1442" y="209.4" width="12.4" height="12.4" fill="#d20f14"/>
<circle cx="1448" cy="253.4" r="8" fill="#46be78"/>
<polygon points="1448.5,281.5 1439.8,296.5 1457.2,296.5" fill="#0a0ab4"/>
<text x="1461.5" y="220.4" font-size="30" textLength="137">Monolayer</text>
<text x="1461.5" y="258.2" font-size="30" textLength="92.8">Bilayer</text>
<text x="1464.9" y="295.8" font-size="30" textLength="98.4">Trilayer</text>
<text class="b" x="1361" y="173" font-size="48">d</text>
</g>

<g id="panelE">
<rect x="173.6" y="1662.0" width="30" height="18.4" fill="#fcc596"/>
<rect x="221.0" y="1669.4" width="30" height="11.0" fill="#fcc596"/>
<rect x="268.4" y="1670.4" width="30" height="10.0" fill="#fcc596"/>
<rect x="315.8" y="1676.2" width="30" height="4.2" fill="#fcc596"/>
<rect x="410.6" y="1667.8" width="30" height="12.6" fill="#fcc596"/>
<rect x="458.0" y="1672.0" width="30" height="8.4" fill="#fcc596"/>
<rect x="505.4" y="1678.8" width="30" height="1.6" fill="#fcc596"/>
<rect x="552.8" y="1678.8" width="30" height="1.6" fill="#fcc596"/>
<rect x="600.2" y="1672.0" width="30" height="8.4" fill="#fcc596"/>
<rect x="647.6" y="1673.0" width="30" height="7.4" fill="#fcc596"/>
<rect x="695.0" y="1673.9" width="30" height="6.5" fill="#fcc596"/>
<rect x="742.4" y="1672.0" width="30" height="8.4" fill="#fcc596"/>
<rect x="789.8" y="1676.2" width="30" height="4.2" fill="#fcc596"/>
<rect x="837.2" y="1667.8" width="30" height="12.6" fill="#fcc596"/>
<rect x="884.6" y="1665.2" width="30" height="15.2" fill="#fcc596"/>
<rect x="932.0" y="1670.4" width="30" height="10.0" fill="#fcc596"/>
<rect x="979.4" y="1665.2" width="30" height="15.2" fill="#9dd69d"/>
<rect x="979.4" y="1673.9" width="30" height="6.5" fill="#fcc596"/>
<rect x="1026.8" y="1660.4" width="30" height="20.0" fill="#9dd69d"/>
<rect x="1026.8" y="1676.2" width="30" height="4.2" fill="#fcc596"/>
<rect x="1074.2" y="1666.2" width="30" height="14.2" fill="#9dd69d"/>
<rect x="1074.2" y="1677.8" width="30" height="2.6" fill="#fcc596"/>
<rect x="1121.6" y="1666.2" width="30" height="14.2" fill="#9dd69d"/>
<rect x="1121.6" y="1678.8" width="30" height="1.6" fill="#fcc596"/>
<rect x="1169.0" y="1513.9" width="30" height="166.5" fill="#9dd69d"/>
<rect x="1216.4" y="1670.4" width="30" height="10.0" fill="#fcc596"/>
<rect x="1263.8" y="1669.4" width="30" height="11.0" fill="#9dd69d"/>
<rect x="1311.2" y="1405.6" width="30" height="274.8" fill="#aad9a0"/>
<rect x="1358.6" y="1507.1" width="30" height="173.3" fill="#aad9a0"/>
<rect x="1358.6" y="1678.5" width="30" height="1.9" fill="#fcc596"/>
<rect x="1406.0" y="1464.4" width="30" height="216.0" fill="#aad9a0"/>
<rect x="1406.0" y="1665.9" width="30" height="14.5" fill="#fcc596"/>
<rect x="1453.4" y="1331.2" width="30" height="349.2" fill="#aad9a0"/>
<rect x="1453.4" y="1674.6" width="30" height="5.8" fill="#fcc596"/>
<rect x="1500.8" y="1507.1" width="30" height="173.3" fill="#aad9a0"/>
<rect x="1548.2" y="1462.2" width="30" height="218.2" fill="#aad9a0"/>
<rect x="1548.2" y="1679.1" width="30" height="1.3" fill="#fcc596"/>
<rect x="1595.6" y="1380.4" width="30" height="300.0" fill="#aad9a0"/>
<rect x="1643.0" y="1518.8" width="30" height="161.7" fill="#9dd69d"/>
<rect x="1690.4" y="1202.6" width="30" height="477.8" fill="#9dd69d"/>
<rect x="1737.8" y="1117.2" width="30" height="563.2" fill="#9dd69d"/>
<path d="M164.3 1096.5 V1680.4 H1801" stroke="#000" stroke-width="4" fill="none" stroke-linejoin="miter"/>
<path d="M164.3 1680.4 h17 M164.3 1615.7 h17 M164.3 1551.1 h17 M164.3 1486.4 h17 M164.3 1421.8 h17 M164.3 1357.1 h17 M164.3 1292.4 h17 M164.3 1227.8 h17 M164.3 1163.1 h17 M164.3 1098.5 h17 M164.3 1648.1 h9 M164.3 1583.4 h9 M164.3 1518.8 h9 M164.3 1454.1 h9 M164.3 1389.4 h9 M164.3 1324.8 h9 M164.3 1260.1 h9 M164.3 1195.5 h9 M164.3 1130.8 h9 " stroke="#000" stroke-width="4" fill="none"/>
<path d="M188.6 1680.4 v-9 M236.0 1680.4 v-9 M283.4 1680.4 v-9 M330.8 1680.4 v-9 M378.2 1680.4 v-17 M425.6 1680.4 v-9 M473.0 1680.4 v-9 M520.4 1680.4 v-9 M567.8 1680.4 v-9 M615.2 1680.4 v-17 M662.6 1680.4 v-9 M710.0 1680.4 v-9 M757.4 1680.4 v-9 M804.8 1680.4 v-9 M852.2 1680.4 v-17 M899.6 1680.4 v-9 M947.0 1680.4 v-9 M994.4 1680.4 v-9 M1041.8 1680.4 v-9 M1089.2 1680.4 v-17 M1136.6 1680.4 v-9 M1184.0 1680.4 v-9 M1231.4 1680.4 v-9 M1278.8 1680.4 v-9 M1326.2 1680.4 v-17 M1373.6 1680.4 v-9 M1421.0 1680.4 v-9 M1468.4 1680.4 v-9 M1515.8 1680.4 v-9 M1563.2 1680.4 v-17 M1610.6 1680.4 v-9 M1658.0 1680.4 v-9 M1705.4 1680.4 v-9 M1752.8 1680.4 v-9 " stroke="#000" stroke-width="3.2" fill="none"/>
<path d="M1800 1682.4 v-19" stroke="#000" stroke-width="2" fill="none"/>
<g style="mix-blend-mode:multiply">
<rect x="166.3" y="1635.7" width="387.3" height="47" fill="#d9d9d9"/>
<rect x="553.6" y="1635.7" width="409" height="47" fill="#eef6e4"/>
<rect x="1026.3" y="1635.7" width="268.3" height="47" fill="#daf0fa"/>
<rect x="1310.4" y="1328" width="317.6" height="354.7" fill="#ffd7d7"/>
</g>
<text x="146" y="1689.9" text-anchor="end" font-size="35">0</text>
<text x="146" y="1625.2" text-anchor="end" font-size="35">2</text>
<text x="146" y="1560.6" text-anchor="end" font-size="35">4</text>
<text x="146" y="1495.9" text-anchor="end" font-size="35">6</text>
<text x="146" y="1431.3" text-anchor="end" font-size="35">8</text>
<text x="146" y="1366.6" text-anchor="end" font-size="35">10</text>
<text x="146" y="1301.9" text-anchor="end" font-size="35">12</text>
<text x="146" y="1237.3" text-anchor="end" font-size="35">14</text>
<text x="146" y="1172.6" text-anchor="end" font-size="35">16</text>
<text x="146" y="1108.0" text-anchor="end" font-size="35">18</text>
<text transform="translate(92,1381.5) rotate(-90)" text-anchor="middle" font-size="36.5">Piezoelectric coefficient (pm/V)</text>
<text transform="translate(195.5,1720.8) rotate(-58)" text-anchor="end" font-size="29" style="fill:#000;stroke:#000;stroke-width:0.8"><tspan>AlAs</tspan></text>
<text transform="translate(243.7,1719.2) rotate(-58)" text-anchor="end" font-size="29" style="fill:#000;stroke:#000;stroke-width:0.8"><tspan>AlSb</tspan></text>
<text transform="translate(289.4,1720.8) rotate(-58)" text-anchor="end" font-size="29" style="fill:#000;stroke:#000;stroke-width:0.8"><tspan>GaP</tspan></text>
<text transform="translate(332.8,1722.3) rotate(-58)" text-anchor="end" font-size="29" style="fill:#000;stroke:#000;stroke-width:0.8"><tspan>GaAs</tspan></text>
<text transform="translate(382.7,1713.6) rotate(-58)" text-anchor="end" font-size="29" style="fill:#000;stroke:#000;stroke-width:0.8"><tspan>GaSb</tspan></text>
<text transform="translate(428.6,1724.0) rotate(-58)" text-anchor="end" font-size="29" style="fill:#000;stroke:#000;stroke-width:0.8"><tspan>InSb</tspan></text>
<text transform="translate(475.1,1729.5) rotate(-58)" text-anchor="end" font-size="29" style="fill:#000;stroke:#000;stroke-width:0.8"><tspan>InP</tspan></text>
<text transform="translate(524.9,1722.3) rotate(-58)" text-anchor="end" font-size="29" style="fill:#000;stroke:#000;stroke-width:0.8"><tspan>InAs</tspan></text>
<text transform="translate(578.6,1716.8) rotate(-58)" text-anchor="end" font-size="29" style="fill:#000;stroke:#000;stroke-width:0.8"><tspan>Ga</tspan><tspan dy="7" font-size="19">2</tspan><tspan dy="-7">SSe</tspan></text>
<text transform="translate(622.9,1716.8) rotate(-58)" text-anchor="end" font-size="29" style="fill:#000;stroke:#000;stroke-width:0.8"><tspan>Ga</tspan><tspan dy="7" font-size="19">2</tspan><tspan dy="-7">STe</tspan></text>
<text transform="translate(669.5,1721.6) rotate(-58)" text-anchor="end" font-size="29" style="fill:#000;stroke:#000;stroke-width:0.8"><tspan>Ga</tspan><tspan dy="7" font-size="19">2</tspan><tspan dy="-7">SeTe</tspan></text>
<text transform="translate(716.9,1720.0) rotate(-58)" text-anchor="end" font-size="29" style="fill:#000;stroke:#000;stroke-width:0.8"><tspan>In</tspan><tspan dy="7" font-size="19">2</tspan><tspan dy="-7">SSe</tspan></text>
<text transform="translate(761.9,1717.6) rotate(-58)" text-anchor="end" font-size="29" style="fill:#000;stroke:#000;stroke-width:0.8"><tspan>In</tspan><tspan dy="7" font-size="19">2</tspan><tspan dy="-7">STe</tspan></text>
<text transform="translate(814.0,1718.4) rotate(-58)" text-anchor="end" font-size="29" style="fill:#000;stroke:#000;stroke-width:0.8"><tspan>In</tspan><tspan dy="7" font-size="19">2</tspan><tspan dy="-7">SeTe</tspan></text>
<text transform="translate(863.0,1717.6) rotate(-58)" text-anchor="end" font-size="29" style="fill:#000;stroke:#000;stroke-width:0.8"><tspan>GaInS</tspan><tspan dy="7" font-size="19">2</tspan></text>
<text transform="translate(914.4,1726.3) rotate(-58)" text-anchor="end" font-size="29" style="fill:#000;stroke:#000;stroke-width:0.8"><tspan>GaInSe</tspan><tspan dy="7" font-size="19">2</tspan></text>
<text transform="translate(960.2,1725.5) rotate(-58)" text-anchor="end" font-size="29" style="fill:#000;stroke:#000;stroke-width:0.8"><tspan>GaInTe</tspan><tspan dy="7" font-size="19">2</tspan></text>
<text transform="translate(1013.2,1718.4) rotate(-58)" text-anchor="end" font-size="29" style="fill:#000;stroke:#000;stroke-width:0.8"><tspan>3R-MoS</tspan><tspan dy="7" font-size="19">2</tspan></text>
<text transform="translate(1060.6,1719.2) rotate(-58)" text-anchor="end" font-size="29" style="fill:#000;stroke:#000;stroke-width:0.8"><tspan>3R-MoSe</tspan><tspan dy="7" font-size="19">2</tspan></text>
<text transform="translate(1104.8,1724.7) rotate(-58)" text-anchor="end" font-size="29" style="fill:#000;stroke:#000;stroke-width:0.8"><tspan>3R-WS</tspan><tspan dy="7" font-size="19">2</tspan></text>
<text transform="translate(1149.8,1722.3) rotate(-58)" text-anchor="end" font-size="29" style="fill:#000;stroke:#000;stroke-width:0.8"><tspan>3R-WSe</tspan><tspan dy="7" font-size="19">2</tspan></text>
<text transform="translate(1197.2,1714.4) rotate(-58)" text-anchor="end" font-size="29.5" style="fill:#f00;font-weight:bold"><tspan>CuInP</tspan><tspan dy="7" font-size="19">2</tspan><tspan dy="-7">S</tspan><tspan dy="7" font-size="19">6</tspan></text>
<text transform="translate(1241.4,1719.2) rotate(-58)" text-anchor="end" font-size="29" style="fill:#000;stroke:#000;stroke-width:0.8"><tspan>Graphene</tspan></text>
<text transform="translate(1285.7,1720.8) rotate(-58)" text-anchor="end" font-size="29" style="fill:#000;stroke:#000;stroke-width:0.8"><tspan>α-In</tspan><tspan dy="7" font-size="19">2</tspan><tspan dy="-7">Se</tspan><tspan dy="7" font-size="19">3</tspan></text>
<text transform="translate(1339.4,1715.2) rotate(-58)" text-anchor="end" font-size="29.5" style="fill:#f00;font-weight:bold"><tspan>CuInP</tspan><tspan dy="7" font-size="19">2</tspan><tspan dy="-7">S</tspan><tspan dy="7" font-size="19">6</tspan></text>
<text transform="translate(1385.2,1718.4) rotate(-58)" text-anchor="end" font-size="29" style="fill:#000;stroke:#000;stroke-width:0.8"><tspan>MoSeTe</tspan></text>
<text transform="translate(1429.4,1721.6) rotate(-58)" text-anchor="end" font-size="29" style="fill:#000;stroke:#000;stroke-width:0.8"><tspan>MoSTe</tspan></text>
<text transform="translate(1483.2,1721.6) rotate(-58)" text-anchor="end" font-size="29" style="fill:#000;stroke:#000;stroke-width:0.8"><tspan>WSSe</tspan></text>
<text transform="translate(1533.8,1719.2) rotate(-58)" text-anchor="end" font-size="29" style="fill:#000;stroke:#000;stroke-width:0.8"><tspan>WSeTe</tspan></text>
<text transform="translate(1583.5,1721.6) rotate(-58)" text-anchor="end" font-size="29" style="fill:#000;stroke:#000;stroke-width:0.8"><tspan>WSTe</tspan></text>
<text transform="translate(1635.7,1721.6) rotate(-58)" text-anchor="end" font-size="29" style="fill:#000;stroke:#000;stroke-width:0.8"><tspan>MoSSe</tspan></text>
<text transform="translate(1679.0,1725.0) rotate(-58)" text-anchor="end" font-size="29" style="fill:#000;stroke:#000;stroke-width:0.8"><tspan>SnS</tspan><tspan dy="7" font-size="19">2</tspan></text>
<text transform="translate(1728.6,1706.7) rotate(-58)" text-anchor="end" font-size="29.5" style="fill:#f00;font-weight:bold"><tspan>CuInP</tspan><tspan dy="7" font-size="19">2</tspan><tspan dy="-7">S</tspan><tspan dy="7" font-size="19">6</tspan></text>
<text transform="translate(1779.2,1701.1) rotate(-58)" text-anchor="end" font-size="29" style="fill:#000;stroke:#000;stroke-width:0.8"><tspan>CuInP</tspan><tspan dy="7" font-size="19">2</tspan><tspan dy="-7">S</tspan><tspan dy="7" font-size="19">6</tspan></text>
<rect x="223.9" y="1118" width="94.1" height="46.7" fill="#9dd69d"/>
<rect x="223.9" y="1179" width="94.1" height="47.7" fill="#fcc596"/>
<text x="328" y="1155.3" font-size="41"><tspan class="i">d</tspan><tspan dy="11" font-size="27">33</tspan></text>
<text x="328" y="1216.5" font-size="41"><tspan class="i">d</tspan><tspan dy="11" font-size="27">31</tspan></text>
<path d="M630.3 1172 V1137.2 H788.8 V1172.4 M630.3 1219 V1251 H788.8 V1238.8" fill="none" stroke="#000" stroke-width="4"/>
<rect x="539.9" y="1171.1" width="184.9" height="48.4" fill="#fcc596"/>
<path d="M504.3 1191.8 H516.5 V1183 L540 1195.8 L516.5 1208.6 V1199.8 H504.3 Z" fill="#c00000"/>
<text x="469.5" y="1205.6" font-size="27">F</text>
<text x="777" y="1215.8" font-size="27" textLength="80.2">Q or V</text>
<text x="691" y="1104.7" font-size="27"><tspan class="i">d</tspan><tspan dy="6" font-size="18">31</tspan></text>
<path d="M626.9 1410 V1375.6 H786.1 V1409.8 M626.9 1457 V1488.1 H786.1 V1477.2" fill="none" stroke="#000" stroke-width="4"/>
<rect x="537.2" y="1409.1" width="183.9" height="48.8" fill="#9dd69d"/>
<path d="M577.8 1374.3 H586 V1384.4 H595.1 L581.9 1409.1 L568.7 1384.4 H577.8 Z" fill="#c00000"/>
<text x="581.5" y="1347.8" font-size="27">F</text>
<text x="773.6" y="1453.5" font-size="27" textLength="80.2">Q or V</text>
<text x="684" y="1347.2" font-size="27"><tspan class="i">d</tspan><tspan dy="6" font-size="18">33</tspan></text>
<text x="205.9" y="1571.4" font-size="27.5" textLength="330.2">Group III-V semiconductors</text>
<text x="205.9" y="1606.6" font-size="27.5" textLength="121.9">monolayer</text>
<text x="615.2" y="1570.4" font-size="27.5" textLength="338.6">Janus group-III chalcogenide</text>
<text x="613.8" y="1605.3" font-size="27.5" textLength="122.6">monolayer</text>
<text x="1001.7" y="1605.3" font-size="27.5" textLength="299.7">Van der Waals monolayer</text>
<text x="1352.7" y="1288" font-size="27.5" textLength="258">Van der Waals bilayer</text>
<text class="b" x="1132.5" y="1479.0" font-size="28" textLength="123.8">This work</text>
<polygon points="1182.9,1477.5 1187.4,1491.3 1201.9,1491.3 1190.2,1499.9 1194.7,1513.7 1182.9,1505.1 1171.1,1513.7 1175.6,1499.9 1163.9,1491.3 1178.4,1491.3" fill="#f00"/>
<text class="b" x="1263.5" y="1367.6" font-size="28" textLength="123.8">This work</text>
<polygon points="1326.2,1373.5 1330.7,1387.3 1345.2,1387.3 1333.5,1395.9 1338.0,1409.7 1326.2,1401.1 1314.4,1409.7 1318.9,1395.9 1307.2,1387.3 1321.7,1387.3" fill="#f00"/>
<text class="b" x="1622.5" y="1161.7" font-size="28" textLength="123.8">This work</text>
<polygon points="1703.8,1166.3 1708.3,1180.1 1722.8,1180.1 1711.1,1188.7 1715.6,1202.5 1703.8,1193.9 1692.0,1202.5 1696.5,1188.7 1684.8,1180.1 1699.3,1180.1" fill="#f00"/>
<text x="1723.4" y="1094" font-size="27.5" textLength="78.6">3.5 nm</text>
<text x="1662.5" y="1238" font-size="27.5" textLength="77.8">2.5 nm</text>
<text x="1624" y="1537" font-size="27.5" textLength="77.8">2.5 nm</text>
<text class="b" x="114.5" y="1042.5" font-size="48">e</text>
</g>

</svg></body></html>
